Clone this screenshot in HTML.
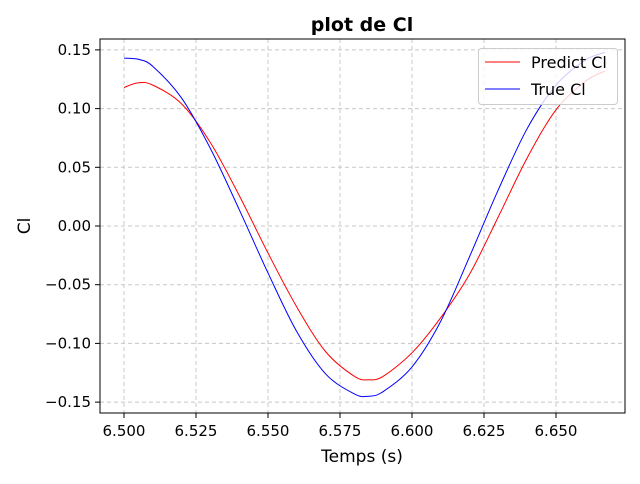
<!DOCTYPE html>
<html><head><meta charset="utf-8"><style>
body{margin:0;background:#fff;font-family:"DejaVu Sans","Liberation Sans",sans-serif}
</style></head><body>
<svg id="c" width="640" height="480" viewBox="0 0 640 480" xmlns="http://www.w3.org/2000/svg">
<rect width="640" height="480" fill="#fff"/>
<g id="grid"></g><g id="series"></g>
<rect x="100" y="39" width="525" height="374" fill="none" stroke="#000" stroke-width="1"/>
<g id="ticks"></g>
<text x="362" y="31" text-anchor="middle" font-size="19" font-weight="bold">plot de Cl</text>
<text x="362" y="462" text-anchor="middle" font-size="17">Temps (s)</text>
<text transform="translate(30,226) rotate(-90)" text-anchor="middle" font-size="17">Cl</text>
<g>
<rect x="478.5" y="48.5" width="139" height="56" rx="3" fill="#fff" fill-opacity="0.8" stroke="#ccc"/>
<line x1="485" y1="62" x2="520" y2="62" stroke="red"/>
<text x="531" y="68" font-size="16">Predict Cl</text>
<line x1="485" y1="89" x2="520" y2="89" stroke="blue"/>
<text x="531" y="95" font-size="16">True Cl</text>
</g>
</svg>
<script>
const xTicks=[6.500,6.525,6.550,6.575,6.600,6.625,6.650];
const yTicks=[0.15,0.10,0.05,0.00,-0.05,-0.10,-0.15];
const trueX=[6.500,6.505,6.510,6.520,6.530,6.540,6.550,6.560,6.570,6.580,6.585,6.590,6.600,6.610,6.620,6.630,6.640,6.650,6.660,6.667];
const trueY=[0.143,0.142,0.136,0.109,0.066,0.014,-0.040,-0.090,-0.126,-0.143,-0.145,-0.141,-0.120,-0.081,-0.026,0.031,0.083,0.120,0.141,0.148];
const predX=[6.500,6.505,6.510,6.520,6.530,6.540,6.550,6.560,6.570,6.580,6.585,6.590,6.600,6.610,6.620,6.630,6.640,6.650,6.660,6.667];
const predY=[0.118,0.122,0.120,0.104,0.071,0.026,-0.023,-0.069,-0.107,-0.128,-0.131,-0.128,-0.108,-0.078,-0.041,0.008,0.058,0.099,0.123,0.132];
const NS="http://www.w3.org/2000/svg";
function sx(v){return 124+(v-6.5)*2880;}
function sy(v){return 226-v*1174;}
function mk(t,a,p){const e=document.createElementNS(NS,t);for(const k in a)e.setAttribute(k,a[k]);p.appendChild(e);return e;}
const grid=document.getElementById('grid'),ticks=document.getElementById('ticks'),ser=document.getElementById('series');
xTicks.forEach(v=>{const x=sx(v);
const g=mk('line',{x1:x,x2:x,y1:39,y2:413,stroke:'#c8c8c8','stroke-dasharray':'4,3'},grid);

mk('line',{x1:x,x2:x,y1:413,y2:418,stroke:'#000'},ticks);
const t=mk('text',{x:x,y:436,'text-anchor':'middle','font-size':'15'},ticks);t.textContent=v.toFixed(3);
});
yTicks.forEach(v=>{const y=sy(v);
const g=mk('line',{x1:100,x2:625,y1:y,y2:y,stroke:'#c8c8c8','stroke-dasharray':'4,3'},grid);

mk('line',{x1:95,x2:100,y1:y,y2:y,stroke:'#000'},ticks);
const t=mk('text',{x:91,y:y+5,'text-anchor':'end','font-size':'15'},ticks);t.textContent=(v<0?'\u2212':'')+Math.abs(v).toFixed(2);
});
function path(xs,ys){const P=xs.map((x,i)=>[sx(x),sy(ys[i])]);let d='M'+P[0][0]+','+P[0][1];
for(let i=0;i<P.length-1;i++){const p0=P[i-1]||P[i],p1=P[i],p2=P[i+1],p3=P[i+2]||p2;
d+=' C'+(p1[0]+(p2[0]-p0[0])/6)+','+(p1[1]+(p2[1]-p0[1])/6)+' '+(p2[0]-(p3[0]-p1[0])/6)+','+(p2[1]-(p3[1]-p1[1])/6)+' '+p2[0]+','+p2[1];}return d;}
const pr=mk('path',{d:path(predX,predY),fill:'none',stroke:'red','stroke-width':1},ser);

const tr=mk('path',{d:path(trueX,trueY),fill:'none',stroke:'blue','stroke-width':1},ser);

</script>
</body></html>
